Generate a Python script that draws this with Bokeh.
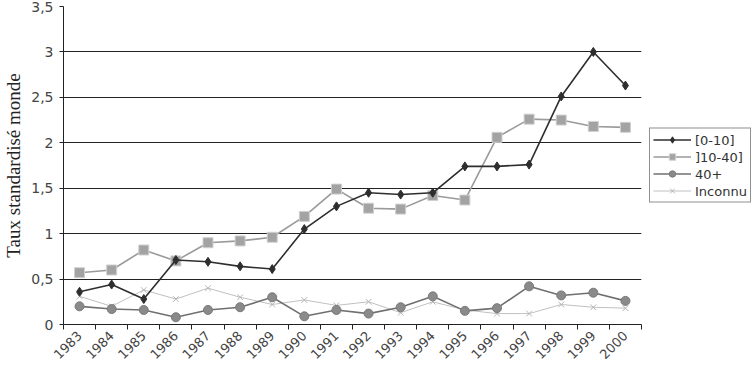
import math
from bokeh.plotting import figure
from bokeh.models import FixedTicker, Legend, LegendItem, Range1d
from bokeh.embed import file_html
from bokeh.resources import INLINE

years = [str(y) for y in range(1983, 2001)]
s_0_10 = [0.36, 0.44, 0.28, 0.71, 0.69, 0.64, 0.61, 1.05, 1.30, 1.45, 1.43, 1.45, 1.74, 1.74, 1.76, 2.51, 3.00, 2.63]
s_10_40 = [0.57, 0.60, 0.82, 0.70, 0.90, 0.92, 0.96, 1.19, 1.49, 1.28, 1.27, 1.42, 1.37, 2.06, 2.26, 2.25, 2.18, 2.17]
s_40p = [0.20, 0.17, 0.16, 0.08, 0.16, 0.19, 0.30, 0.09, 0.16, 0.12, 0.19, 0.31, 0.15, 0.18, 0.42, 0.32, 0.35, 0.26]
s_inc = [0.31, 0.20, 0.38, 0.28, 0.40, 0.30, 0.22, 0.27, 0.21, 0.25, 0.13, 0.25, 0.16, 0.12, 0.12, 0.22, 0.19, 0.18]
series_names = ["[0-10]", "]10-40]", "40+", "Inconnu"]
y_ticks = [0, 0.5, 1, 1.5, 2, 2.5, 3, 3.5]
y_tick_labels = ["0", "0,5", "1", "1,5", "2", "2,5", "3", "3,5"]

xs = list(range(len(years)))

p = figure(frame_width=578, frame_height=318, x_range=Range1d(-0.5, len(years) - 0.5),
           y_range=Range1d(0, 3.5), output_backend="svg", toolbar_location=None,
           min_border_top=6, min_border_left=52, min_border_right=2, min_border_bottom=2)
p.outline_line_color = None
p.background_fill_color = "white"

# x axis
xa = p.xaxis[0]
xa.ticker = FixedTicker(ticks=xs, minor_ticks=[i - 0.5 for i in range(len(years) + 1)])
xa.major_label_overrides = {i: years[i] for i in xs}
xa.major_tick_out = 0
xa.major_tick_in = 0
xa.minor_tick_out = 5
xa.minor_tick_in = 0
xa.minor_tick_line_color = "#222222"
xa.axis_line_color = "#222222"
xa.major_label_orientation = math.pi / 4
xa.major_label_text_font = "DejaVu Sans"
xa.major_label_text_font_size = "13px"
xa.major_label_text_color = "#444444"
xa.major_label_standoff = 4

# y axis
ya = p.yaxis[0]
ya.ticker = FixedTicker(ticks=y_ticks)
ya.major_label_overrides = {t: l for t, l in zip(y_ticks, y_tick_labels)}
ya.major_tick_out = 4
ya.major_tick_in = 0
ya.minor_tick_line_color = None
ya.axis_line_color = "#222222"
ya.major_tick_line_color = "#222222"
ya.major_label_text_font = "DejaVu Sans"
ya.major_label_text_font_size = "14px"
ya.major_label_text_color = "#444444"
ya.major_label_standoff = 6
ya.axis_label = "Taux standardisé monde"
ya.axis_label_text_font = "Liberation Serif"
ya.axis_label_text_font_style = "normal"
ya.axis_label_text_font_size = "19px"
ya.axis_label_text_color = "#222222"
ya.axis_label_standoff = 4

p.xgrid.grid_line_color = None
p.ygrid.ticker = FixedTicker(ticks=y_ticks)
p.ygrid.grid_line_color = "#222222"
p.ygrid.grid_line_width = 1

l = p.line(xs, s_inc, line_color="#c0c0c0", line_width=1)
m = p.scatter(xs, s_inc, marker="x", size=8, line_color="#b5b5b5", line_width=1)
inc_item = LegendItem(label=series_names[3], renderers=[l, m])

l = p.line(xs, s_40p, line_color="#707070", line_width=1.6)
m = p.scatter(xs, s_40p, marker="circle", size=9, fill_color="#8a8a8a", line_color="#7a7a7a")
p40_item = LegendItem(label=series_names[2], renderers=[l, m])

l = p.line(xs, s_10_40, line_color="#9a9a9a", line_width=1.6)
m = p.scatter(xs, s_10_40, marker="square", size=10, fill_color="#a3a3a3", line_color="#d0d0d0", line_width=1)
p10_item = LegendItem(label=series_names[1], renderers=[l, m])

l = p.line(xs, s_0_10, line_color="#2e2e2e", line_width=1.6)
m = p.scatter(xs, s_0_10, marker="diamond", size=9, fill_color="#2e2e2e", line_color="#2e2e2e")
p0_item = LegendItem(label=series_names[0], renderers=[l, m])

legend = Legend(items=[p0_item, p10_item, p40_item, inc_item], location="center_left")
legend.border_line_color = "#222222"
legend.border_line_width = 1
legend.background_fill_color = "white"
legend.label_text_font = "DejaVu Sans"
legend.label_text_font_size = "13px"
legend.label_text_color = "#333333"
legend.glyph_width = 38
legend.glyph_height = 16
legend.label_height = 16
legend.spacing = 1
legend.padding = 3
legend.margin = 8
legend.label_standoff = 4
p.add_layout(legend, "right")

open("out.html", "w").write(file_html(p, INLINE))
